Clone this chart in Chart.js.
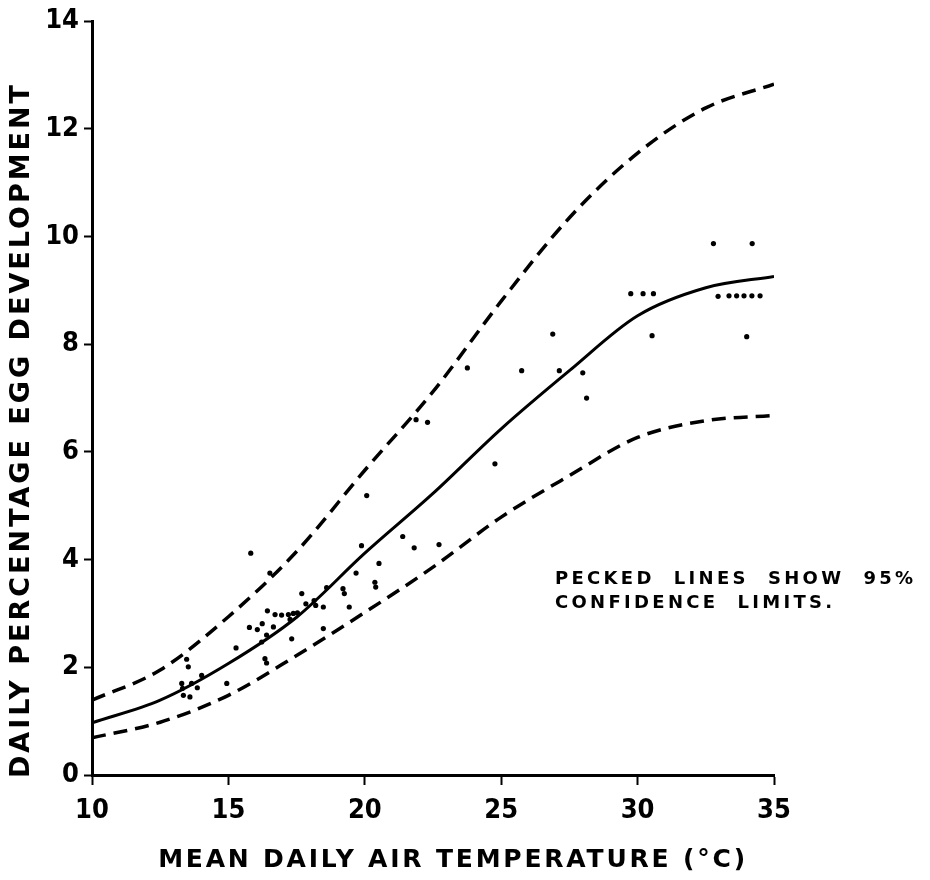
<!DOCTYPE html>
<html>
<head>
<meta charset="utf-8">
<script src="https://cdn.jsdelivr.net/npm/chart.js@4.4.1/dist/chart.umd.min.js"></script>
<style>
  html, body { margin: 0; padding: 0; background: #fff; }
  #wrap { width: 930px; height: 880px; }
</style>
</head>
<body>
<div id="wrap"><canvas id="myChart" width="930" height="880"></canvas></div>
<script>
// fitted curve and 95% limits
const curveX = [10, 12.5, 15, 17.5, 20, 22.5, 25, 27.5, 30, 32.5, 35];
const upperLimit = [1.39, 1.95, 2.94, 4.15, 5.66, 7.12, 8.8, 10.35, 11.55, 12.39, 12.83];
const fitted = [0.97, 1.39, 2.07, 2.93, 4.12, 5.23, 6.43, 7.51, 8.53, 9.05, 9.26];
const lowerLimit = [0.69, 0.98, 1.48, 2.22, 3.02, 3.86, 4.79, 5.56, 6.27, 6.58, 6.68];

// observations
const obsTemp = [
  32.78, 34.2, 29.75, 30.2, 30.58, 32.95, 33.35, 33.63, 33.9, 34.19, 34.49,
  26.89, 30.53, 34.0, 25.75, 27.13, 27.99, 28.13, 21.88, 22.3, 20.07, 24.77,
  23.76, 21.39, 19.88, 21.81, 22.72, 20.52, 19.68, 20.37, 20.4, 18.6, 19.2,
  19.25, 17.69, 15.82, 16.52, 19.43, 18.14, 18.2, 18.48, 17.84, 16.43, 16.71,
  16.95, 17.2, 17.38, 17.53, 17.26, 15.77, 16.06, 16.24, 16.65, 16.4, 17.32,
  18.48, 16.22, 15.28, 16.34, 16.4, 13.47, 13.53, 14.02, 14.94, 13.29, 13.32,
  13.65, 13.86, 13.35, 13.59
];
const obsDev = [
  9.87, 9.87, 8.94, 8.94, 8.94, 8.89, 8.9, 8.9, 8.9, 8.9, 8.9,
  8.19, 8.16, 8.14, 7.51, 7.51, 7.47, 7.0, 6.6, 6.55, 5.19, 5.78,
  7.56, 4.43, 4.26, 4.22, 4.28, 3.93, 3.75, 3.58, 3.49, 3.48, 3.46,
  3.37, 3.37, 4.12, 3.75, 3.12, 3.24, 3.15, 3.12, 3.18, 3.05, 2.98,
  2.97, 2.98, 3.0, 3.01, 2.89, 2.74, 2.70, 2.81, 2.75, 2.6, 2.53,
  2.72, 2.47, 2.36, 2.16, 2.08, 2.15, 2.01, 1.85, 1.70, 1.70, 1.61,
  1.70, 1.62, 1.48, 1.45
];

const xTicks = [10, 15, 20, 25, 30, 35];
const yTicks = [0, 2, 4, 6, 8, 10, 12, 14];

const xTitle = 'MEAN DAILY AIR TEMPERATURE (°C)';
const yTitle = 'DAILY PERCENTAGE EGG DEVELOPMENT';
const note = ['PECKED  LINES  SHOW  95%', 'CONFIDENCE  LIMITS.'];

const pts = (xs, ys) => xs.map((x, i) => ({ x: x, y: ys[i] }));

const curveStyle = {
  showLine: true,
  pointRadius: 0,
  borderColor: '#000',
  borderWidth: 3.5,
  cubicInterpolationMode: 'monotone',
  fill: false
};

// hand-lettered texts
const textPlugin = {
  id: 'texts',
  afterDraw(chart) {
    const ctx = chart.ctx;
    const area = chart.chartArea;
    ctx.save();
    ctx.fillStyle = '#000';
    ctx.textBaseline = 'middle';
    ctx.textAlign = 'center';

    ctx.font = 'bold 25px "DejaVu Sans"';
    ctx.letterSpacing = '2.8px';
    ctx.fillText(xTitle, (area.left + area.right) / 2 + 20, 860);

    ctx.font = 'bold 27px "DejaVu Sans"';
    ctx.letterSpacing = '3px';
    ctx.save();
    ctx.translate(22, 430);
    ctx.rotate(-Math.PI / 2);
    ctx.fillText(yTitle, 0, 0);
    ctx.restore();

    ctx.font = 'bold 18px "DejaVu Sans"';
    ctx.letterSpacing = '3.3px';
    ctx.textAlign = 'left';
    ctx.fillText(note[0], 555, 579);
    ctx.fillText(note[1], 555, 603);
    ctx.restore();
  }
};

const data = {
  datasets: [
    { label: 'upper', data: pts(curveX, upperLimit), borderDash: [14, 8], ...curveStyle },
    { label: 'fit', data: pts(curveX, fitted), ...curveStyle, borderWidth: 3 },
    { label: 'lower', data: pts(curveX, lowerLimit), borderDash: [14, 8], ...curveStyle },
    {
      label: 'obs',
      data: pts(obsTemp, obsDev),
      showLine: false,
      pointRadius: 2.6,
      pointBackgroundColor: '#000',
      pointBorderWidth: 0
    }
  ]
};

const tickFont = { family: '"DejaVu Sans Condensed", "DejaVu Sans"', size: 27, weight: 'bold' };

const config = {
  type: 'scatter',
  data,
  options: {
    responsive: false,
    animation: false,
    layout: { padding: { left: 0, top: 20, right: 156, bottom: 0 } },
    plugins: { legend: { display: false }, tooltip: { enabled: false } },
    scales: {
      x: {
        type: 'linear',
        min: 10,
        max: 35,
        afterBuildTicks: s => { s.ticks = xTicks.map(v => ({ value: v })); },
        afterFit: s => { s.height = 105; },
        border: { display: true, color: '#000', width: 3 },
        grid: { drawOnChartArea: false, drawTicks: true, tickLength: 10, tickColor: '#000', tickWidth: 2 },
        ticks: { color: '#000', font: tickFont, padding: 10, maxRotation: 0 }
      },
      y: {
        type: 'linear',
        min: 0,
        max: 14,
        afterBuildTicks: s => { s.ticks = yTicks.map(v => ({ value: v })); },
        afterFit: s => { s.width = 92; },
        border: { display: true, color: '#000', width: 3 },
        grid: { drawOnChartArea: false, drawTicks: true, tickLength: 8, tickColor: '#000', tickWidth: 2 },
        ticks: { color: '#000', font: tickFont, padding: 5 }
      }
    }
  },
  plugins: [textPlugin]
};

const myChart = new Chart(document.getElementById('myChart'), config);
</script>
</body>
</html>
